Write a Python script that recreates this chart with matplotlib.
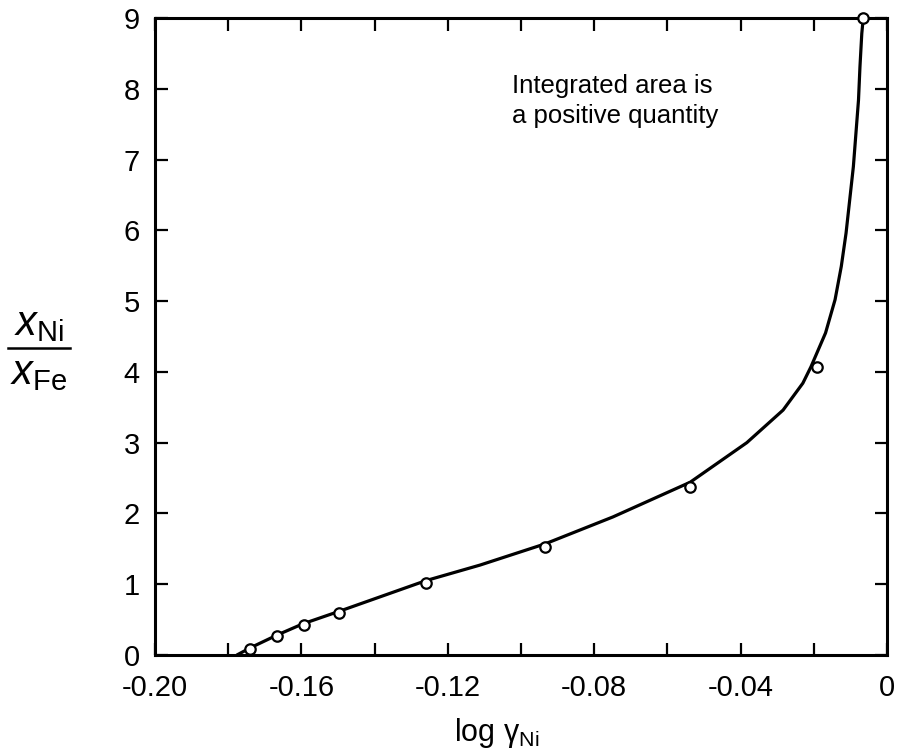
import matplotlib
matplotlib.use('Agg')
import matplotlib.pyplot as plt
from matplotlib.lines import Line2D

plt.rcParams['font.family'] = ['Liberation Sans', 'DejaVu Sans']
plt.rcParams['mathtext.fontset'] = 'custom'
plt.rcParams['mathtext.rm'] = 'Liberation Sans'
plt.rcParams['mathtext.it'] = 'Liberation Sans:italic'

# smoothed curve, x_Ni/x_Fe against log gamma_Ni
curve_log_gamma = [-0.1776, -0.1740, -0.1667, -0.1596, -0.1495, -0.1260, -0.1112,
                   -0.0934, -0.0749, -0.0538, -0.0383, -0.0284, -0.0230, -0.0208,
                   -0.0168, -0.0142, -0.0125, -0.0112, -0.0102, -0.0092, -0.0085,
                   -0.0078, -0.0074, -0.0069, -0.0065]
curve_ratio = [0.0, 0.10, 0.28, 0.44, 0.62, 1.05, 1.27,
               1.57, 1.95, 2.44, 3.00, 3.46, 3.84, 4.07,
               4.55, 5.02, 5.49, 5.96, 6.43, 6.90, 7.37,
               7.84, 8.31, 8.78, 9.0]

# measured points
pts_log_gamma = [-0.174, -0.1667, -0.1593, -0.1497, -0.126, -0.0934, -0.0538, -0.0191, -0.0066]
pts_ratio = [0.08, 0.27, 0.42, 0.59, 1.02, 1.53, 2.37, 4.07, 9.0]

fig = plt.figure(figsize=(8.97, 7.55), dpi=100)
ax = fig.add_axes([0.1728, 0.1325, 0.8161, 0.8437])

ax.plot(curve_log_gamma, curve_ratio, color='black', lw=2.3,
        solid_capstyle='round', solid_joinstyle='round')
ax.plot(pts_log_gamma, pts_ratio, 'o', mfc='white', mec='black', ms=7.5, mew=1.6,
        clip_on=False, zorder=5)

ax.set_xlim(-0.20, 0)
ax.set_ylim(0, 9)
ax.set_xticks([-0.20, -0.16, -0.12, -0.08, -0.04, 0])
ax.set_xticklabels(['-0.20', '-0.16', '-0.12', '-0.08', '-0.04', '0'])
ax.set_xticks([-0.18, -0.14, -0.10, -0.06, -0.02], minor=True)
ax.set_yticks(range(10))

for s in ax.spines.values():
    s.set_linewidth(2.2)

ax.tick_params(which='both', direction='in', length=9, width=1.6,
               top=True, right=True, labelsize=21)
ax.tick_params(axis='x', pad=14)
ax.tick_params(axis='y', pad=11)

ax.text(-0.1025, 7.52, 'Integrated area is\na positive quantity',
        fontsize=18.5, ha='left', va='baseline', linespacing=1.32)

# y label drawn as a stacked fraction
fig.text(39 / 897, 1 - 324 / 755, r'$x_{\rm Ni}$', fontsize=30, ha='center', va='center')
fig.text(39 / 897, 1 - 373 / 755, r'$x_{\rm Fe}$', fontsize=30, ha='center', va='center')
fig.add_artist(Line2D([8 / 897, 70 / 897], [1 - 348 / 755, 1 - 348 / 755],
                      color='black', lw=1.8, transform=fig.transFigure))

fig.text(497 / 897, 1 - 741 / 755, r'log γ$_{\rm Ni}$', fontsize=22,
         ha='center', va='baseline')

fig.savefig('out.png', dpi=100)
